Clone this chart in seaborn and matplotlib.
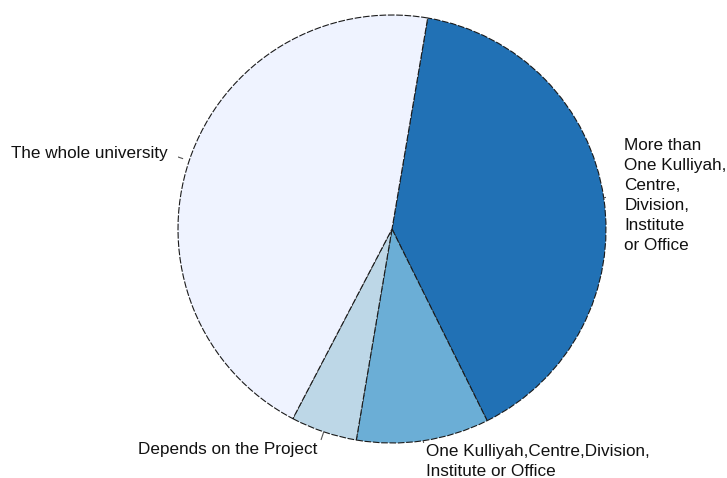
import numpy as np
import matplotlib
matplotlib.use("Agg")
import matplotlib.pyplot as plt
import seaborn as sns

# Scope of the projects (share of responses)
categories = [
    "More than\nOne Kulliyah,\nCentre,\nDivision,\nInstitute\nor Office",
    "One Kulliyah,Centre,Division,\nInstitute or Office",
    "Depends on the Project",
    "The whole university",
]
shares = [40, 10, 5, 45]
colors = ["#2171b5", "#6baed6", "#bdd7e7", "#eff3ff"]

sns.set_theme(style="white")
plt.rcParams["font.family"] = ["Liberation Sans", "DejaVu Sans"]

W, H = 727, 478
fig = plt.figure(figsize=(W / 100, H / 100), dpi=100)
cx, cy, R = 392, 229, 214
ax = fig.add_axes([(cx - R) / W, (H - cy - R) / H, 2 * R / W, 2 * R / H])

wedges, _ = ax.pie(
    shares,
    colors=colors,
    startangle=80.4,
    counterclock=False,
    wedgeprops=dict(edgecolor="#1a1a1a", linewidth=0.8, linestyle=(0, (6, 1.5))),
)
ax.set_xlim(-1, 1)
ax.set_ylim(-1, 1)
ax.set_aspect("equal")
ax.axis("off")

# label placement: (leader start r, leader end r, text dx px, text dy px, ha, va)
layout = [
    (1.00, 1.06, 8, 0, "left", "center"),
    (1.00, 1.04, 1, -5, "left", "top"),
    (1.00, 1.04, -4, 2, "right", "top"),
    (1.03, 1.08, -5, -2, "right", "center"),
]

for w, lab, (r0, r1, dx, dy, ha, va) in zip(wedges, categories, layout):
    mid = np.deg2rad((w.theta1 + w.theta2) / 2)
    c, s = np.cos(mid), np.sin(mid)
    ax.plot([r0 * c, r1 * c], [r0 * s, r1 * s], color="#555555", lw=0.8,
            solid_capstyle="butt")
    ax.annotate(
        lab, xy=(r1 * c, r1 * s), xycoords="data",
        xytext=(dx * 0.72, -dy * 0.72), textcoords="offset points",
        ha=ha, va=va, fontsize=12.3, color="#111111", linespacing=1.42,
        annotation_clip=False,
    )

fig.savefig("out.png", dpi=100, facecolor="white")
